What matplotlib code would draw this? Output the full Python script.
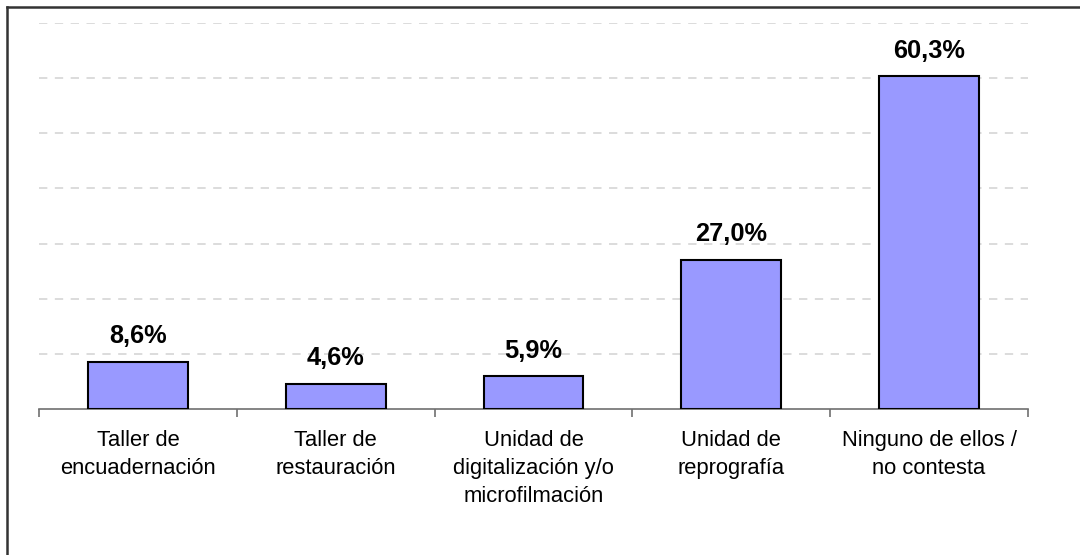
import numpy as np
import matplotlib
matplotlib.use('Agg')
import matplotlib.pyplot as plt
from matplotlib.lines import Line2D

# Datos
categorias = ['Taller de\nencuadernación', 'Taller de\nrestauración',
              'Unidad de\ndigitalización y/o\nmicrofilmación',
              'Unidad de\nreprografía', 'Ninguno de ellos /\nno contesta']
valores = [8.6, 4.6, 5.9, 27.0, 60.3]
etiquetas = ['8,6%', '4,6%', '5,9%', '27,0%', '60,3%']

plt.rcParams['font.family'] = ['Liberation Sans', 'DejaVu Sans']

fig = plt.figure(figsize=(10.8, 5.55), dpi=100)
ax = fig.add_axes([39 / 1080, 1 - 409 / 555, (1028 - 39) / 1080, (409 - 23) / 555])

x = np.arange(len(categorias))
barras = ax.bar(x, valores, width=0.505, color='#9999FF', edgecolor='black', linewidth=1.5, zorder=3)

for b, txt in zip(barras, etiquetas):
    ax.annotate(txt, (b.get_x() + b.get_width() / 2, b.get_height()),
                ha='center', va='bottom', xytext=(0, 10), textcoords='offset points',
                fontsize=18.3, fontweight='bold', zorder=4)

ax.set_xlim(-0.5, len(categorias) - 0.5)
ax.set_ylim(0, 70)
ax.set_yticks(np.arange(10, 71, 10))
ax.yaxis.grid(True, color='#d6d6d6', linestyle=(0, (5, 4.5)), linewidth=1.2, zorder=0)
ax.tick_params(axis='y', left=False, labelleft=False)

ax.set_xticks(x)
ax.set_xticklabels(categorias, fontsize=15.8, linespacing=1.45)
ax.set_xticks(np.arange(-0.5, len(categorias)), minor=True)
ax.tick_params(axis='x', which='major', length=0, pad=15)
ax.tick_params(axis='x', which='minor', length=6, width=1.2, color='#707070', direction='out')

for s in ['top', 'right', 'left']:
    ax.spines[s].set_visible(False)
ax.spines['bottom'].set_color('#707070')
ax.spines['bottom'].set_linewidth(1.2)

# marco de la figura
fig.add_artist(Line2D([6.5 / 1080, 1], [1 - 6.5 / 555, 1 - 6.5 / 555], color='#333333', linewidth=1.8))
fig.add_artist(Line2D([6.5 / 1080, 6.5 / 1080], [0, 1 - 6.5 / 555], color='#333333', linewidth=1.8))

fig.savefig('out.png', dpi=100)
plt.close(fig)
